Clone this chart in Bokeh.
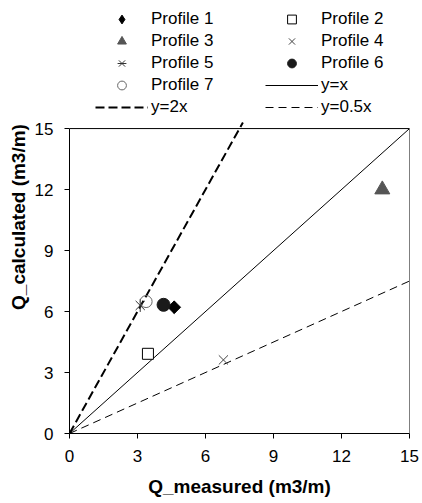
import math
from bokeh.plotting import figure
from bokeh.models import Range1d, FixedTicker, Legend, LegendItem
from bokeh.embed import file_html
from bokeh.resources import INLINE

# ---- data ----
profiles = ["Profile 1", "Profile 2", "Profile 3", "Profile 4", "Profile 5", "Profile 6", "Profile 7"]
q_measured = [4.62, 3.46, 13.8, 6.79, 3.12, 4.15, 3.38]
q_calculated = [6.21, 3.92, 12.0, 3.62, 6.30, 6.33, 6.49]

line_1x_x = [0, 15]
line_1x_y = [0, 15]
line_2x_x = [0, 7.65]
line_2x_y = [0, 15.3]
line_05x_x = [0, 15]
line_05x_y = [0, 7.5]

ticks = [0, 3, 6, 9, 12, 15]

FONT = "Liberation Sans"

# frame covers the legend area too (so the legend is not clipped); axes are bounded to 0..15
p = figure(width=422, height=503, output_backend="svg", toolbar_location=None, title=None,
           x_range=Range1d(0, 15), y_range=Range1d(0, 21.3),
           min_border_left=69, min_border_right=13, min_border_top=0, min_border_bottom=70,
           background_fill_color="white", border_fill_color="white")
p.outline_line_color = None
p.grid.visible = False

for ax in (p.xaxis[0], p.yaxis[0]):
    ax.ticker = FixedTicker(ticks=ticks)
    ax.bounds = (0, 15)
    ax.minor_tick_line_color = None
    ax.major_tick_out = 5
    ax.major_tick_in = 0
    ax.axis_line_color = "black"
    ax.major_tick_line_color = "black"
    ax.major_label_text_font = FONT
    ax.major_label_text_font_size = "17px"
    ax.major_label_text_color = "black"
    ax.major_label_standoff = 11
    ax.axis_label_text_font = FONT
    ax.axis_label_text_font_size = "19px"
    ax.axis_label_text_font_style = "bold"
    ax.axis_label_text_color = "black"

p.xaxis[0].axis_label = "Q_measured (m3/m)"
p.yaxis[0].axis_label = "Q_calculated (m3/m)"
p.xaxis[0].axis_label_standoff = 11
p.yaxis[0].axis_label_standoff = 3

# plot-area border (top & right)
p.segment(x0=[0, 15], y0=[15, 0], x1=[15, 15], y1=[15, 15], line_color="black", line_width=1)

# reference lines
r_1x = p.line(line_1x_x, line_1x_y, line_color="black", line_width=1)
r_2x = p.line(line_2x_x, line_2x_y, line_color="black", line_width=2, line_dash="9 4")
r_05x = p.line(line_05x_x, line_05x_y, line_color="black", line_width=1, line_dash="8 5")

# markers
def pt(i):
    return dict(x=[q_measured[i]], y=[q_calculated[i]])

r1 = p.scatter(marker="square", angle=math.pi / 4, size=9, fill_color="black", line_color="black", **pt(0))
r1_leg = p.scatter(marker="diamond", size=12, fill_color="black", line_color="black", **pt(0))
r2 = p.scatter(marker="square", size=11, fill_color="white", line_color="black", line_width=1, **pt(1))
r3 = p.scatter(marker="triangle", size=15, fill_color="#555555", line_color="#555555", **pt(2))
r4 = p.scatter(marker="x", size=13, line_color="#444444", line_width=1, **pt(3))
r5a = p.scatter(marker="x", size=13, line_color="#333333", line_width=1, **pt(4))
r5b = p.scatter(marker="dash", angle=math.pi / 2, size=13, line_color="#333333", line_width=1, **pt(4))
r6 = p.scatter(marker="circle", size=13, fill_color="#1a1a1a", line_color="#1a1a1a", **pt(5))
r7 = p.scatter(marker="circle", size=12, fill_color=None, line_color="#666666", line_width=1, **pt(6))

def make_legend(items, vx):
    lg = Legend(items=items, location=(vx, 315), orientation="vertical",
                glyph_width=53, glyph_height=22, label_height=22, label_standoff=3,
                spacing=0, padding=0, margin=0,
                border_line_color=None, background_fill_alpha=0,
                label_text_font=FONT, label_text_font_size="17px", label_text_color="black")
    p.add_layout(lg, "center")

make_legend([
    LegendItem(label=profiles[0], renderers=[r1_leg]),
    LegendItem(label=profiles[2], renderers=[r3]),
    LegendItem(label=profiles[4], renderers=[r5a, r5b]),
    LegendItem(label=profiles[6], renderers=[r7]),
    LegendItem(label="y=2x", renderers=[r_2x]),
], 26)
make_legend([
    LegendItem(label=profiles[1], renderers=[r2]),
    LegendItem(label=profiles[3], renderers=[r4]),
    LegendItem(label=profiles[5], renderers=[r6]),
    LegendItem(label="y=x", renderers=[r_1x]),
    LegendItem(label="y=0.5x", renderers=[r_05x]),
], 196)

open("out.html", "w").write(file_html(p, INLINE))
